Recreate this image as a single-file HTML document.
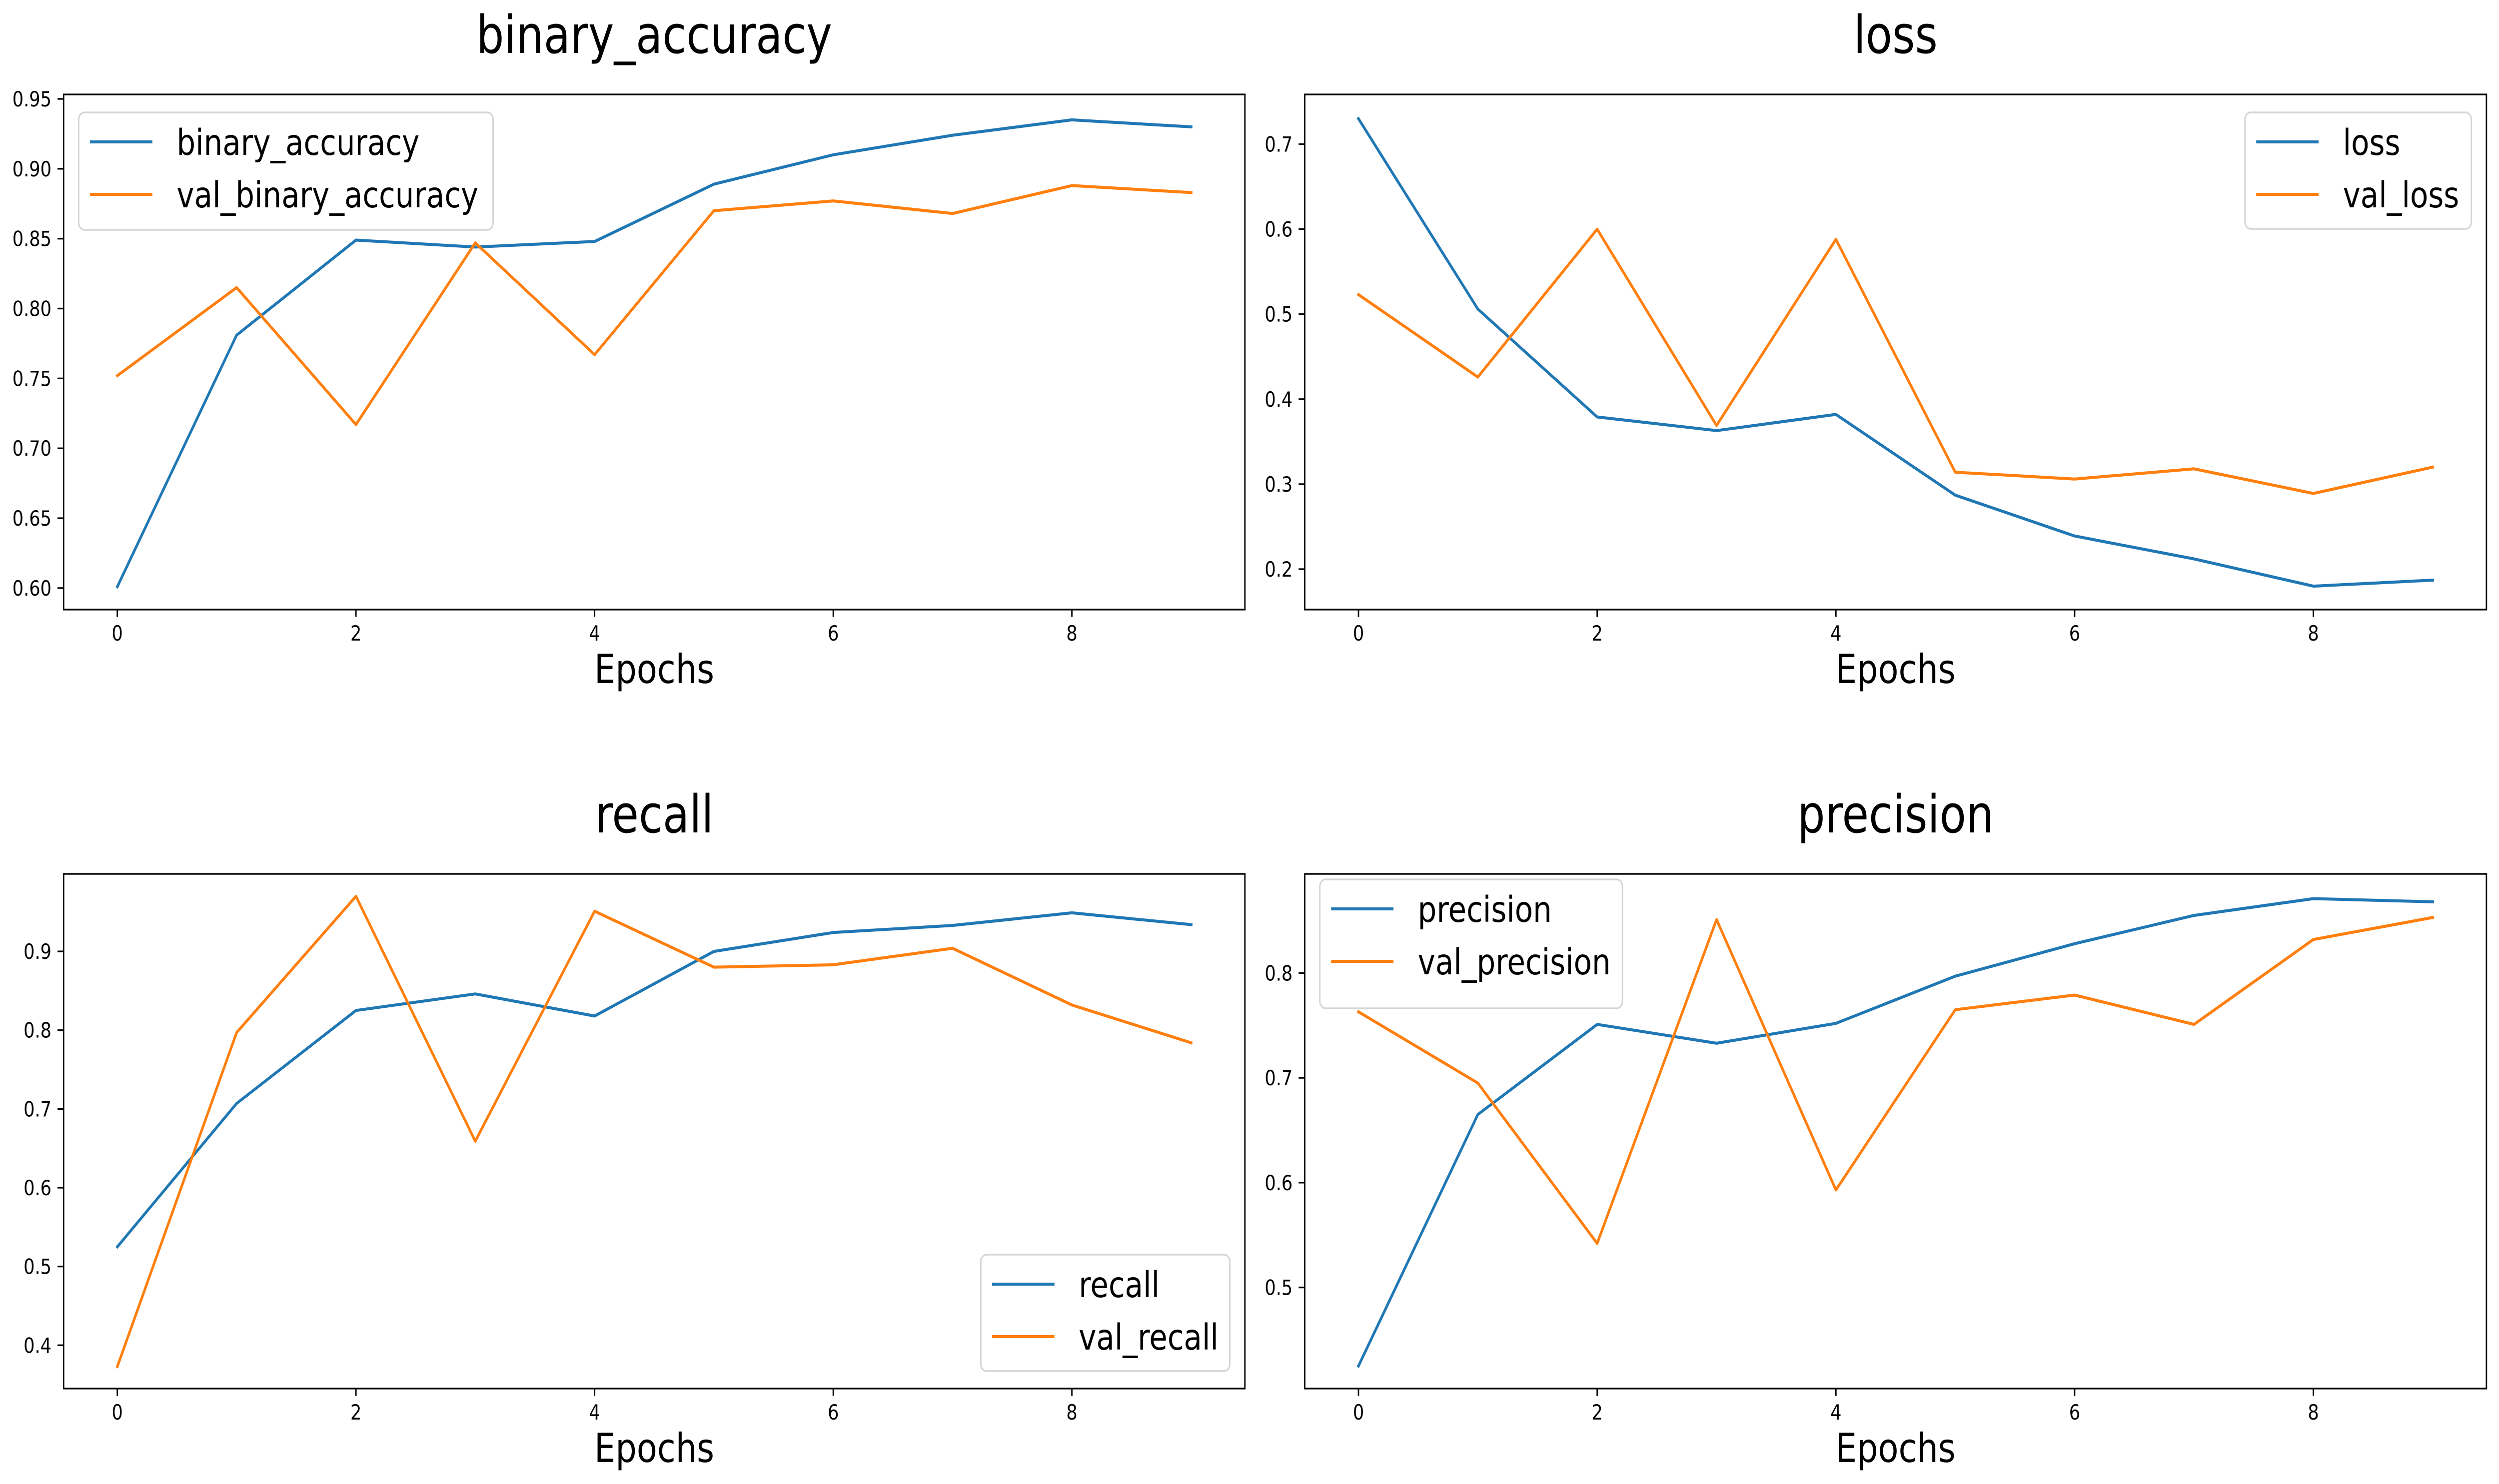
<!DOCTYPE html>
<html><head><meta charset="utf-8"><style>
html,body{margin:0;padding:0;background:#fff;width:100%;height:100%;overflow:hidden;}
svg{display:block;font-family:"DejaVu Sans","Liberation Sans",sans-serif;width:100vw;height:100vh;}
</style></head><body>
<svg id="fig" viewBox="0 0 5970 2970" preserveAspectRatio="none" xmlns="http://www.w3.org/2000/svg"></svg>
<script>
const epochs = [0,1,2,3,4,5,6,7,8,9];
const xTicks = [0,2,4,6,8];
const accTrain = [0.601,0.781,0.849,0.844,0.848,0.889,0.910,0.924,0.935,0.930];
const accVal   = [0.752,0.815,0.717,0.847,0.767,0.870,0.877,0.868,0.888,0.883];
const lossTrain = [0.730,0.506,0.379,0.363,0.382,0.287,0.239,0.212,0.180,0.187];
const lossVal   = [0.523,0.426,0.600,0.369,0.588,0.314,0.306,0.318,0.289,0.320];
const recallTrain = [0.525,0.707,0.825,0.846,0.818,0.900,0.924,0.933,0.949,0.934];
const recallVal   = [0.373,0.797,0.970,0.659,0.951,0.880,0.883,0.904,0.832,0.784];
const precTrain = [0.425,0.665,0.751,0.733,0.752,0.797,0.828,0.855,0.871,0.868];
const precVal   = [0.763,0.695,0.542,0.851,0.593,0.765,0.779,0.751,0.832,0.853];
const accTicks = [0.60,0.65,0.70,0.75,0.80,0.85,0.90,0.95];
const lossTicks = [0.2,0.3,0.4,0.5,0.6,0.7];
const recallTicks = [0.4,0.5,0.6,0.7,0.8,0.9];
const precTicks = [0.5,0.6,0.7,0.8];

const NS = "http://www.w3.org/2000/svg";
const svg = document.getElementById('fig');
function mk(tag, attrs, parent){
  const e = document.createElementNS(NS, tag);
  for (const k in attrs) e.setAttribute(k, attrs[k]);
  (parent||svg).appendChild(e);
  return e;
}
const BLUE = '#1f77b4', ORANGE = '#ff7f0e';

function panel(cfg){
  const g = mk('g', {});
  
  
  const L = cfg.left, R = cfg.right, T = cfg.top, B = cfg.bottom;
  const xMin = -0.45, xMax = 9.45;
  const sx = v => L + (v - xMin) / (xMax - xMin) * (R - L);
  const sy = v => B - (v - cfg.yMin) / (cfg.yMax - cfg.yMin) * (B - T);

  const title = mk('text', {x:(L+R)/2, y:T-83, 'font-size':104, 'text-anchor':'middle', fill:'#000'}, g);
  title.textContent = cfg.title;
  
  

  xTicks.forEach(t => {
    const tk = mk('line', {x1:sx(t), x2:sx(t), y1:B, y2:B+14.6, stroke:'#000', 'stroke-width':3.3}, g);
    
    
    const lb = mk('text', {x:sx(t), y:B+62, 'font-size':42, 'text-anchor':'middle', fill:'#000'}, g);
    lb.textContent = String(t);
    
    
  });
  const xl = mk('text', {x:(L+R)/2, y:B+147, 'font-size':80, 'text-anchor':'middle', fill:'#000'}, g);
  xl.textContent = 'Epochs';
  
  

  cfg.yTicks.forEach(t => {
    const tk = mk('line', {x1:L-14.6, x2:L, y1:sy(t), y2:sy(t), stroke:'#000', 'stroke-width':3.3}, g);
    
    
    const lb = mk('text', {x:L-29, y:sy(t)+15, 'font-size':42, 'text-anchor':'end', fill:'#000'}, g);
    lb.textContent = t.toFixed(cfg.dec);
    
    
  });

  [[cfg.train, BLUE, cfg.key], [cfg.val, ORANGE, 'val_' + cfg.key]].forEach(([arr, col, nm]) => {
    const pts = arr.map((v,i) => sx(epochs[i]).toFixed(1) + ',' + sy(v).toFixed(1)).join(' ');
    const pl = mk('polyline', {points:pts, fill:'none', stroke:col, 'stroke-width':6, 'stroke-linejoin':'round', 'stroke-linecap':'square'}, g);
    
    
  });

  const fr = mk('rect', {x:L, y:T, width:R-L, height:B-T, fill:'none', stroke:'#000', 'stroke-width':3.3}, g);
  
  

  const lg = cfg.legend;
  const lgG = mk('g', {}, g);
  
  
  mk('rect', {x:lg.x0, y:lg.y0, width:lg.x1-lg.x0, height:lg.y1-lg.y0, rx:14, ry:14, fill:'#fff', 'fill-opacity':0.8, stroke:'#d5d5d5', 'stroke-width':3.5}, lgG);
  const names = cfg.legendNames;
  [BLUE, ORANGE].forEach((col, i) => {
    const cy = lg.y0 + 59 + i*105;
    const h = mk('line', {x1:lg.x0+27, x2:lg.x0+176, y1:cy, y2:cy, stroke:col, 'stroke-width':6}, lgG);
    
    
    const tx = mk('text', {x:lg.x0+234, y:cy+26, 'font-size':71, fill:'#000'}, lgG);
    tx.textContent = names[i];
    
    
  });
}

panel({key:'binary_accuracy', title:'binary_accuracy', left:152, right:2974, top:189, bottom:1220,
  yMin:0.5846, yMax:0.9532, yTicks:accTicks, dec:2, train:accTrain, val:accVal,
  legendNames:['binary_accuracy','val_binary_accuracy'], legend:{x0:188,y0:225,x1:1178,y1:460}});
panel({key:'loss', title:'loss', left:3117, right:5940, top:189, bottom:1220,
  yMin:0.1524, yMax:0.7585, yTicks:lossTicks, dec:1, train:lossTrain, val:lossVal,
  legendNames:['loss','val_loss'], legend:{x0:5363,y0:225,x1:5904,y1:458}});
panel({key:'recall', title:'recall', left:152, right:2974, top:1749, bottom:2779,
  yMin:0.345, yMax:0.9984, yTicks:recallTicks, dec:1, train:recallTrain, val:recallVal,
  legendNames:['recall','val_recall'], legend:{x0:2343,y0:2511,x1:2938,y1:2744}});
panel({key:'precision', title:'precision', left:3117, right:5940, top:1749, bottom:2779,
  yMin:0.4035, yMax:0.8946, yTicks:precTicks, dec:1, train:precTrain, val:precVal,
  legendNames:['precision','val_precision'], legend:{x0:3153,y0:1760,x1:3876,y1:2018}});
</script>
</body></html>
